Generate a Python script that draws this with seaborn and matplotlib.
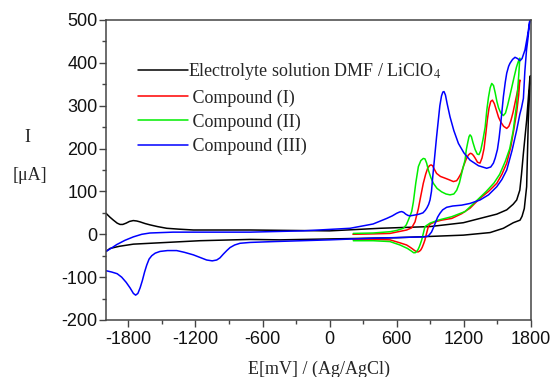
import numpy as np
import pandas as pd
import matplotlib
matplotlib.use("Agg")
import matplotlib.pyplot as plt
import seaborn as sns

# ---------------- data (E in mV vs Ag/AgCl, I in uA), in scan order ----------------
black_E = [-2000, -1965, -1934, -1900, -1875, -1850, -1820, -1790, -1756, -1725, -1696, -1650,
           -1607, -1540, -1457, -1350, -1219, -712, 0, 450, 897, 1195,
           1344, 1494, 1583, 1640, 1672, 1700, 1715, 1732, 1761, 1790,
           1795, 1785, 1776, 1761, 1740, 1720, 1702, 1642, 1553, 1434, 1195, 599, -444, -712,
           -1160, -1457, -1755, -1880, -1964, -2000]
black_I = [49, 40, 33, 26, 23, 23, 26, 30, 32, 31, 29, 25,
           22, 18, 14, 12, 10, 10, 8, 14, 18, 27,
           37, 47, 57, 70, 80, 103, 140, 189, 266, 365,
           370, 320, 266, 111, 60, 42, 33, 27, 14, 4, -2, -8, -13, -12,
           -15, -19, -23, -28, -33, -40]

red_E = [208, 400, 539, 688, 733, 763, 793, 815, 837, 858, 876, 892, 906, 920, 935, 956,
         990, 1031, 1070, 1106, 1135, 1151, 1175, 1195, 1220, 1240, 1258, 1270, 1285, 1300,
         1322, 1344, 1362, 1380, 1396, 1410, 1425, 1440, 1455, 1472, 1490, 1510, 1530, 1555,
         1583, 1602, 1620, 1640, 1660, 1680, 1700,
         1690, 1672, 1650, 1620, 1583, 1540, 1494, 1420, 1344, 1255, 1180, 1091, 1000, 942,
         900, 882, 872, 862, 852, 840, 828, 816, 805, 792, 780, 760, 740, 718, 688, 629, 539,
         400, 208]
red_I = [0, 1, 2, 10, 15, 29, 60, 90, 119, 140, 154, 160, 162, 160, 152, 142,
         135, 131, 127, 123, 125, 131, 142, 158, 175, 185, 189, 188, 184, 178,
         168, 166, 178, 200, 235, 268, 295, 310, 313, 305, 290, 273, 262, 252,
         247, 252, 265, 285, 310, 335, 360,
         325, 285, 250, 205, 166, 140, 119, 100, 84, 61, 48, 37, 33, 29,
         24, 18, 8, -2, -13, -22, -30, -36, -39, -41, -41, -38, -34, -30, -25, -20, -13,
         -12, -12]

green_E = [211, 389, 539, 600, 659, 685, 703, 720, 733, 748, 770, 793, 815, 837, 852, 867,
           882, 905, 927, 960, 1001, 1040, 1076, 1110, 1136, 1160, 1180, 1195, 1210, 1222,
           1235, 1246, 1255, 1267, 1280, 1300, 1320, 1335, 1350, 1370, 1390, 1405, 1420, 1435,
           1449, 1465, 1480, 1495, 1510, 1530, 1553, 1572, 1590, 1610, 1630, 1650, 1670, 1685,
           1700,
           1690, 1670, 1640, 1610, 1570, 1520, 1470, 1400, 1300, 1255, 1210, 1091, 971, 897,
           852, 838, 823, 810, 800, 789, 778, 765, 750, 735, 718, 695, 670, 629, 539, 389, 211]
green_I = [2, 3, 6, 9, 14, 22, 33, 44, 53, 75, 120, 158, 172, 177, 176, 166,
           150, 132, 119, 107, 99, 94, 92, 94, 103, 120, 142, 158, 173, 198,
           215, 228, 232, 228, 215, 198, 187, 186, 195, 220, 250, 290, 320, 342,
           352, 347, 330, 310, 295, 283, 277, 283, 300, 322, 345, 368, 390, 402,
           411,
           370, 300, 240, 200, 170, 140, 120, 100, 75, 64, 53, 41, 33, 26,
           18, 3, -13, -23, -30, -36, -40, -43, -43, -40, -37, -33, -30, -25, -17, -15, -15]

blue_E = [-2000, -1950, -1904, -1830, -1755, -1680, -1607, -1500, -1400, -1000, -712, -238,
          182, 388, 510, 560, 599, 625, 644, 662, 680, 700, 718, 763, 800, 834, 855, 870, 885,
          897, 910, 920, 931, 942, 956, 971, 985, 1000, 1012, 1022, 1035, 1050, 1076, 1110,
          1151, 1200, 1255, 1330, 1404, 1440, 1464, 1480, 1500, 1515, 1530, 1553, 1570, 1583,
          1600, 1612, 1635, 1657, 1680, 1702, 1720, 1746, 1770, 1790,
          1772, 1760, 1745, 1732, 1715, 1700, 1672, 1630, 1583, 1540, 1494, 1420, 1344, 1255,
          1180, 1100, 1046, 1010, 986, 965, 950, 938, 927, 910, 882, 850, 700, 400, 0, -500,
          -712, -802, -850, -891, -920, -950, -981, -1010, -1050, -1100, -1150, -1219, -1300,
          -1368, -1450, -1517, -1560, -1591, -1615, -1636, -1655, -1675, -1695, -1715, -1735,
          -1755, -1785, -1820, -1860, -1900, -1950, -2000]
blue_I = [-40, -32, -24, -14, -6, 0, 3, 4, 5, 5, 5, 8,
          14, 24, 37, 43, 49, 52, 53, 51, 47, 44, 43, 45, 47, 50, 56, 62, 70,
          80, 100, 130, 160, 190, 228, 266, 300, 323, 332, 333, 325, 305, 274, 242,
          212, 190, 173, 160, 154, 157, 166, 178, 198, 225, 260, 321, 355, 376,
          392, 399, 408, 413, 410, 405, 410, 430, 465, 500,
          455, 430, 380, 317, 295, 280, 243, 195, 150, 128, 111, 92, 80, 72,
          68, 66, 63, 57, 49, 40, 30, 22, 15, 5, -4, -6, -7, -9, -13, -17,
          -19, -21, -25, -31, -38, -46, -55, -60, -62, -60, -55, -48, -42,
          -38, -38, -40, -44, -50, -58, -72, -88, -108, -125, -138, -142,
          -138, -125, -112, -100, -92, -88, -85]

series_names = ["Electrolyte solution DMF / LiClO$_4$", " Compound (I)", " Compound (II)", " Compound (III)"]
series_colors = ["#000000", "#ff0000", "#00ee00", "#0000ff"]

xticks = [-1800, -1200, -600, 0, 600, 1200, 1800]
yticks = [-200, -100, 0, 100, 200, 300, 400, 500]

frames = []
for name, E, I in zip(series_names, [black_E, red_E, green_E, blue_E], [black_I, red_I, green_I, blue_I]):
    frames.append(pd.DataFrame({"E": E, "I": I, "series": name, "step": np.arange(len(E))}))
df = pd.concat(frames, ignore_index=True)

# ---------------- figure ----------------
sns.set_style("ticks")
plt.rcParams["mathtext.fontset"] = "stix"
plt.rcParams["font.family"] = ["Liberation Sans", "DejaVu Sans"]

fig = plt.figure(figsize=(5.57, 3.77), dpi=100)
ax = fig.add_axes([106 / 557, 57 / 377, 425 / 557, 300 / 377])

sns.lineplot(data=df, x="E", y="I", hue="series", hue_order=series_names,
             palette=series_colors, sort=False, estimator=None, units="series",
             linewidth=1.1, legend=False, ax=ax)

ax.set_xlim(-2000, 1800)
ax.set_ylim(-200, 500)
ax.set_xticks(xticks)
ax.set_yticks(yticks)
ax.set_xticks(np.arange(-1800, 1801, 300), minor=True)
ax.set_yticks(np.arange(-200, 501, 50), minor=True)
ax.set_xticklabels([str(v) for v in xticks])
ax.set_yticklabels([str(v) for v in yticks])

for s in ax.spines.values():
    s.set_visible(True)
    s.set_linewidth(1.1)
    s.set_color("#444444")

ax.tick_params(axis="both", which="major", length=5, width=1.0, color="#444444",
               labelsize=13, labelcolor="#111111")
ax.tick_params(axis="both", which="minor", length=3, width=1.0, color="#444444")
ax.tick_params(axis="y", which="major", pad=1)
ax.tick_params(axis="x", which="major", pad=3)

serif = ["Liberation Serif", "DejaVu Serif"]
ax.set_xlabel("E[mV] / (Ag/AgCl)", fontsize=13, family=serif, labelpad=9)
ax.set_ylabel("")
ax.text(-0.184, 0.607, "I", transform=ax.transAxes, ha="center", va="center",
        fontsize=13, family=serif)
ax.text(-0.180, 0.483, "[\u03bcA]", transform=ax.transAxes, ha="center", va="center",
        fontsize=13, family=serif)

handles = ax.get_lines()[:4]
leg = ax.legend(handles, series_names, loc="upper left", bbox_to_anchor=(0.075, 0.862),
                frameon=False, borderpad=0, borderaxespad=0, handlelength=2.75,
                handletextpad=0.0, labelspacing=0.38,
                prop={"family": serif, "size": 13})

fig.savefig("out.png", dpi=100)
